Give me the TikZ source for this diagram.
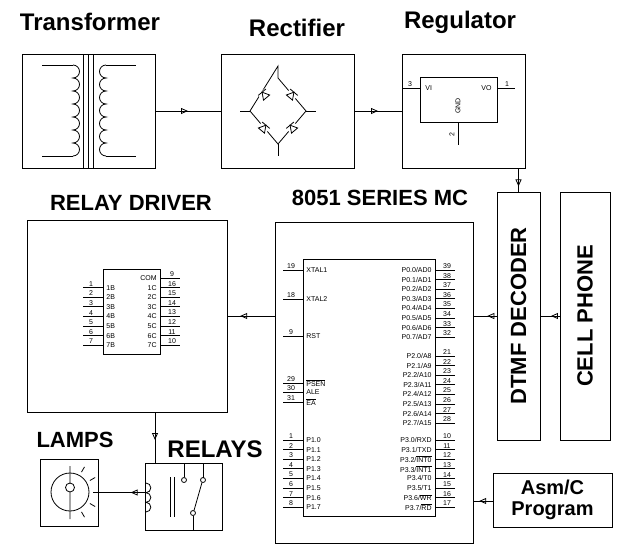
\documentclass[tikz,border=0pt]{standalone}
\usepackage{fontspec}
\setmainfont{Liberation Sans}
\usetikzlibrary{arrows.meta,decorations.markings}

\tikzset{
  blk/.style={draw,line width=1pt,inner sep=0pt},
  ttl/.style={font=\fontsize{24}{24}\selectfont\bfseries,inner sep=0pt},
  pin/.style={font=\fontsize{7}{7}\selectfont,inner sep=1pt},
  flow/.style={line width=0.8pt,postaction={decorate},decoration={markings,
    mark=at position #1 with {\arrow{Triangle[open,length=7pt,width=6pt]}}}},
  flow/.default=0.5
}

\begin{document}
\begin{tikzpicture}[x=1pt,y=-1pt,line width=0.8pt]
  \useasboundingbox (0,0) rectangle (628,552);

  % top row blocks
  \node[blk,minimum width=133pt,minimum height=114pt] (trf) at (88.5,111) {};
  \node[blk,minimum width=133pt,minimum height=114pt] (rect) at (287.5,111) {};
  \node[blk,minimum width=123pt,minimum height=114pt] (reg) at (463.5,111) {};
  \node[ttl] (trft) at (90,22) {Transformer};
  \node[ttl] (rectt) at (297,28) {Rectifier};
  \node[ttl] (regt) at (460,22) {Regulator};

  % transformer
  \draw (42,65) -- (73,65);
  \draw (73,65) \foreach \i in {0,...,6} {arc[start angle=-90,end angle=90,radius=6.5]};
  \draw (73,156) -- (42,156);
  \draw (106,65) -- (136,65);
  \draw (106,65) \foreach \i in {0,...,6} {arc[start angle=270,end angle=90,radius=6.5]};
  \draw (106,156) -- (136,156);
  \foreach \x in {83,88,93} \draw (\x,54) -- (\x,168);

  % bridge
  \draw (278,66) -- (278,78) -- (306,111) -- (278,144) -- (250,111) -- cycle;
  \draw (278,144) -- (278,156) (250,111) -- (240,111) (306,111) -- (316,111);
  \foreach \cx/\cy/\a in {264/94.5/130, 292/94.5/50, 264/127.5/50, 292/127.5/130} {
    \begin{scope}[shift={(\cx,\cy)},rotate=\a]
      \fill[white] (-4,-5) rectangle (4,5);
      \draw (-4,-4) -- (-4,4) -- (3,0) -- cycle;
      \draw (3,-5) -- (3,5);
    \end{scope}
  }

  % regulator IC
  \draw (420,77) rectangle (497,122);
  \draw (402,88) -- (420,88) (497,88) -- (515,88) (458,122) -- (458,145);
  \node[pin,anchor=south] at (410,88) {3};
  \node[pin,anchor=south] at (507,88) {1};
  \node[pin,anchor=west] at (424,88) {VI};
  \node[pin,anchor=east] at (493,88) {VO};
  \node[pin,rotate=90,anchor=east] at (458,97) {GND};
  \node[pin,rotate=90] at (452,135) {2};

  % lower blocks
  \node[blk,minimum width=43pt,minimum height=248pt] (dtmf) at (518.5,316) {};
  \node[ttl,rotate=90,font=\fontsize{22}{22}\selectfont\bfseries] at (dtmf) {DTMF DECODER};
  \node[blk,minimum width=50pt,minimum height=248pt] (cell) at (585,316) {};
  \node[ttl,rotate=90,font=\fontsize{22}{22}\selectfont\bfseries] at (cell) {CELL PHONE};
  \node[blk,minimum width=198pt,minimum height=321pt] (mc) at (374,382.5) {};
  \node[ttl,font=\fontsize{22}{22}\selectfont\bfseries] (mct) at (380,198) {8051 SERIES MC};
  \node[blk,minimum width=200pt,minimum height=192pt] (drv) at (127,316) {};
  \node[ttl,font=\fontsize{22}{22}\selectfont\bfseries] (drvt) at (131,203) {RELAY DRIVER};
  \node[blk,minimum width=77pt,minimum height=67pt] (rly) at (183.5,496.5) {};
  \node[ttl] (rlyt) at (215,449) {RELAYS};
  \node[blk,minimum width=58pt,minimum height=67pt] (lamp) at (69,492.5) {};
  \node[ttl,font=\fontsize{22}{22}\selectfont\bfseries] (lampt) at (75,440) {LAMPS};
  \node[blk,minimum width=119pt,minimum height=54pt,align=center,
    font=\fontsize{20}{21}\selectfont\bfseries] (asm) at (552.5,500) {Asm/C\\Program};

  % 8051 IC
  \draw (303,259) rectangle (435,516);
  \foreach \y/\n/\t in {270/19/XTAL1, 299/18/XTAL2, 336/9/RST, 383/29/\ensuremath{\overline{\mbox{PSEN}}},
      392/30/ALE, 402/31/\ensuremath{\overline{\mbox{EA}}}} {
    \draw (283,\y) -- (303,\y);
    \node[pin,anchor=south] at (291,\y) {\n};
    \node[pin,anchor=west] at (305,\y) {\t};
  }
  \foreach \i in {0,...,7} {
    \pgfmathtruncatemacro{\n}{\i+1}
    \draw (283,440+9.6*\i) -- (303,440+9.6*\i);
    \node[pin,anchor=south] at (291,440+9.6*\i) {\n};
    \node[pin,anchor=west] at (305,440+9.6*\i) {P1.\i};
    \pgfmathtruncatemacro{\m}{39-\i}
    \draw (435,270+9.6*\i) -- (455,270+9.6*\i);
    \node[pin,anchor=south] at (447,270+9.6*\i) {\m};
    \node[pin,anchor=east] at (433,270+9.6*\i) {P0.\i/AD\i};
    \pgfmathtruncatemacro{\m}{21+\i}
    \pgfmathtruncatemacro{\k}{8+\i}
    \draw (435,356+9.6*\i) -- (455,356+9.6*\i);
    \node[pin,anchor=south] at (447,356+9.6*\i) {\m};
    \node[pin,anchor=east] at (433,356+9.6*\i) {P2.\i/A\k};
    \pgfmathtruncatemacro{\m}{10+\i}
    \draw (435,440+9.6*\i) -- (455,440+9.6*\i);
    \node[pin,anchor=south] at (447,440+9.6*\i) {\m};
  }
  \foreach \i/\t in {0/RXD,1/TXD,2/\ensuremath{\overline{\mbox{INT0}}},3/\ensuremath{\overline{\mbox{INT1}}},
      4/T0,5/T1,6/\ensuremath{\overline{\mbox{WR}}},7/\ensuremath{\overline{\mbox{RD}}}}
    \node[pin,anchor=east] at (433,440+9.6*\i) {P3.\i/\t};

  % ULN driver IC
  \draw (103,269) rectangle (160,354);
  \draw (160,278) -- (180,278);
  \node[pin,anchor=south] at (172,278) {9};
  \node[pin,anchor=east] at (158,278) {COM};
  \foreach \i in {1,...,7} {
    \pgfmathtruncatemacro{\m}{17-\i}
    \draw (83,278+9.6*\i) -- (103,278+9.6*\i) (160,278+9.6*\i) -- (180,278+9.6*\i);
    \node[pin,anchor=south] at (91,278+9.6*\i) {\i};
    \node[pin,anchor=west] at (105,278+9.6*\i) {\i B};
    \node[pin,anchor=east] at (158,278+9.6*\i) {\i C};
    \node[pin,anchor=south] at (172,278+9.6*\i) {\m};
  }

  % relay symbol
  \draw (146,483) \foreach \i in {0,...,2} {arc[start angle=-90,end angle=90,radius=4.83]};
  \foreach \x in {170,174} \draw (\x,477) -- (\x,517);
  \draw (184,463) -- (184,477); \draw (184,480) circle (2.5);
  \draw (203,463) -- (203,477.5); \draw (203,480) circle (2.5);
  \draw (202,482.5) -- (194,510.5); \draw (193,513) circle (2.5);
  \draw (193,515.5) -- (193,530);

  % lamp symbol
  \draw (70,492) circle (19);
  \draw (70,466) -- (70,483) arc[start angle=-90,end angle=90,radius=4.5] -- (70,519);
  \draw (70,483) arc[start angle=270,end angle=90,radius=4.5];
  \foreach \a in {-60,-30,0,30,60} \draw (70,492) ++(\a:23) -- ++(\a:6);

  % connections
  \draw[flow] (trf.east) -- (rect.west);
  \draw[flow] (rect.east) -- (reg.west);
  \draw[flow=0.78] (reg.south -| dtmf.center) -- (dtmf.north);
  \draw[flow=0.45] (cell.west) -- (dtmf.east);
  \draw[flow=0.4] (dtmf.west) -- (mc.east |- dtmf.west);
  \draw[flow=0.73] (mc.west |- drv.east) -- (drv.east);
  \draw[flow=0.55] (drv.south -| 155,0) -- (rly.north -| 155,0);
  \draw[flow=0.3] (rly.west |- lamp.east) -- (lamp.east);
  \draw[flow=0.7] (asm.west |- 0,501) -- (mc.east |- 0,501);
\end{tikzpicture}
\end{document}
